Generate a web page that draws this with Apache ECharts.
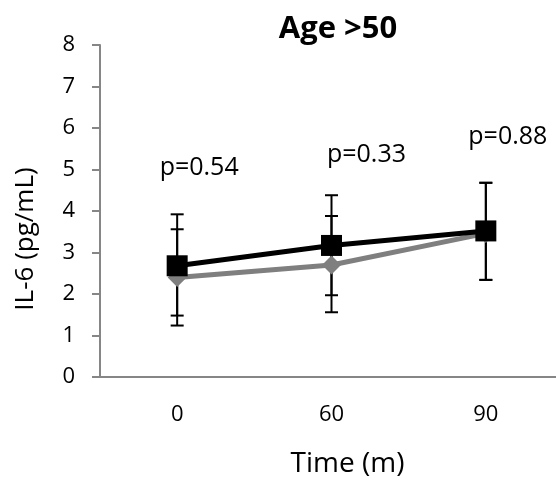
<!DOCTYPE html>
<html>
<head>
<meta charset="utf-8">
<script src="https://cdn.jsdelivr.net/npm/echarts@6/dist/echarts.min.js"></script>
<style>
  html, body { margin: 0; padding: 0; background: #fff; overflow: hidden; }
  /* 图表比窗口稍宽, 让 x 轴延伸出右边界 */
  #chart { width: 563px; height: 483px; }
</style>
</head>
<body>
<div id="chart"></div>
<script>
// 时间点
var timePoints = ['0', '60', '90'];
// 黑色组 (方块)
var blackMean = [2.68, 3.17, 3.52];
var blackLow = [1.48, 1.97, 2.34];
var blackHigh = [3.92, 4.38, 4.68];
// 灰色组 (菱形), 90 处误差线被黑色遮住
var grayMean = [2.40, 2.70, 3.46];
var grayLow = [1.24, 1.56, 2.34];
var grayHigh = [3.56, 3.88, 4.68];
// p 值
var pLabels = ['p=0.54', 'p=0.33', 'p=0.88'];
var pHeights = [5.05, 5.36, 5.79];

var fontName = '"Open Sans", sans-serif';
var labelShift = [22, 35, 22];
var chart = echarts.init(document.getElementById('chart'));

// 误差线
function errorSeries(low, high) {
  return {
    type: 'custom',
    z: 1,
    data: timePoints.map(function (t, i) { return [i, low[i], high[i]]; }),
    renderItem: function (params, api) {
      var lo = api.coord([api.value(0), api.value(1)]);
      var hi = api.coord([api.value(0), api.value(2)]);
      var w = 6.5;
      var st = { stroke: '#000', lineWidth: 2 };
      return {
        type: 'group',
        children: [
          { type: 'line', shape: { x1: hi[0], y1: hi[1], x2: lo[0], y2: lo[1] }, style: st },
          { type: 'line', shape: { x1: hi[0] - w, y1: hi[1], x2: hi[0] + w, y2: hi[1] }, style: st },
          { type: 'line', shape: { x1: lo[0] - w, y1: lo[1], x2: lo[0] + w, y2: lo[1] }, style: st }
        ]
      };
    }
  };
}

var option = {
  animation: false,
  title: {
    text: 'Age >50',
    left: 333,
    top: 9,
    textAlign: 'center',
    textStyle: { fontFamily: fontName, fontWeight: 'bold', fontSize: 31, color: '#000' }
  },
  grid: { left: 100, right: 0, top: 45, bottom: 105 },
  xAxis: {
    type: 'category',
    data: timePoints,
    name: 'Time (m)',
    nameLocation: 'middle',
    nameGap: 73,
    nameTextStyle: { fontFamily: fontName, fontSize: 28, color: '#000', padding: [0, 0, 0, 32] },
    axisLine: { lineStyle: { color: '#868686', width: 2 } },
    axisTick: { alignWithLabel: false, length: 7, lineStyle: { color: '#868686', width: 2 } },
    axisLabel: { fontFamily: fontName, fontSize: 22, color: '#000', margin: 27 }
  },
  yAxis: {
    type: 'value',
    min: 0,
    max: 8,
    interval: 1,
    name: 'IL-6 (pg/mL)',
    nameLocation: 'middle',
    nameGap: 61,
    nameTextStyle: { fontFamily: fontName, fontSize: 26, color: '#000', padding: [0, 56, 0, 0] },
    splitLine: { show: false },
    axisLine: { show: true, lineStyle: { color: '#868686', width: 2 } },
    axisTick: { show: true, length: 8, lineStyle: { color: '#868686', width: 2 } },
    axisLabel: { fontFamily: fontName, fontSize: 22, color: '#000', margin: 25 }
  },
  series: [
    errorSeries(grayLow, grayHigh),
    errorSeries(blackLow, blackHigh),
    {
      type: 'line',
      z: 2,
      data: grayMean,
      symbol: 'diamond',
      symbolSize: 19,
      itemStyle: { color: '#7f7f7f' },
      lineStyle: { color: '#7f7f7f', width: 5 }
    },
    {
      type: 'line',
      z: 3,
      data: blackMean,
      symbol: 'rect',
      symbolSize: 21,
      itemStyle: { color: '#000' },
      lineStyle: { color: '#000', width: 5 }
    },
    {
      // p 值文字
      type: 'custom',
      z: 4,
      data: timePoints.map(function (t, i) { return [i, pHeights[i]]; }),
      renderItem: function (params, api) {
        var pt = api.coord([api.value(0), api.value(1)]);
        return {
          type: 'text',
          x: pt[0] + labelShift[params.dataIndex],
          y: pt[1],
          style: {
            text: pLabels[params.dataIndex],
            fill: '#000',
            font: '25px "Open Sans", sans-serif',
            align: 'center',
            verticalAlign: 'middle'
          }
        };
      }
    }
  ]
};
chart.setOption(option);
</script>
</body>
</html>
